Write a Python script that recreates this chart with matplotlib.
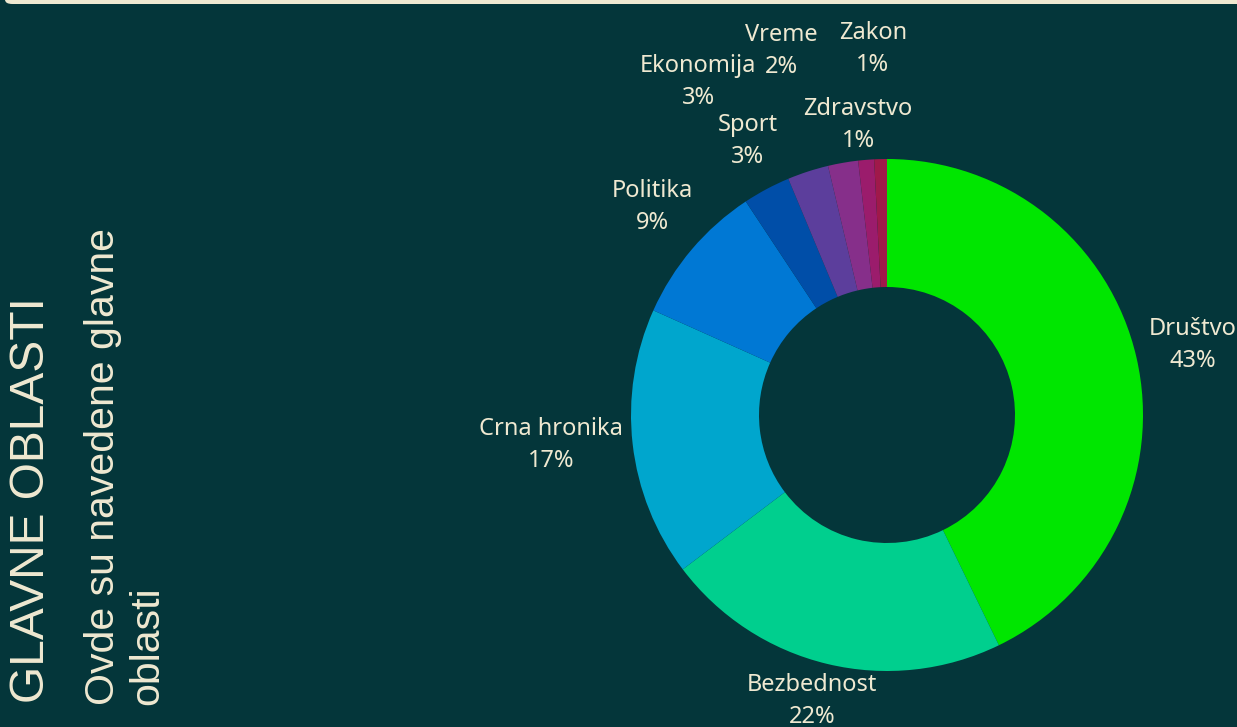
import matplotlib.pyplot as plt
from matplotlib.patches import FancyBboxPatch

# chart data
categories = ['Društvo', 'Bezbednost', 'Crna hronika', 'Politika', 'Sport',
              'Ekonomija', 'Vreme', 'Zdravstvo', 'Zakon']
shares = [42.8, 21.9, 17.0, 9.0, 3.0, 2.6, 1.9, 1.0, 0.8]
pct_labels = ['43%', '22%', '17%', '9%', '3%', '3%', '2%', '1%', '1%']
colors = ['#00e600', '#00cf8e', '#00a6cd', '#0078d4', '#004ea8',
          '#5c3e9c', '#862f8a', '#9b1c6c', '#a0194a']

title = 'GLAVNE OBLASTI'
subtitle = 'Ovde su navedene glavne\noblasti'

bg = '#04363a'
cream = '#efe9d1'

W, H = 1237, 727
fig = plt.figure(figsize=(W / 100, H / 100), dpi=100)
fig.patch.set_facecolor(bg)

# light strip of the card above
fig.patches.append(FancyBboxPatch((5 / W, (H - 4) / H), 1.2, 0.2,
                                  boxstyle='round,pad=0,rounding_size=0.006',
                                  transform=fig.transFigure, facecolor=cream,
                                  edgecolor='none'))

# donut axes: centre at (887, 415) px, radius 256 px
cx, cy, r = 887, 415, 256
ax = fig.add_axes([(cx - r) / W, (H - cy - r) / H, 2 * r / W, 2 * r / H])
ax.set_facecolor(bg)
wedges, _ = ax.pie(shares, colors=colors, startangle=90, counterclock=False,
                   radius=1, wedgeprops=dict(width=0.5, linewidth=0))
ax.set_xlim(-1, 1)
ax.set_ylim(-1, 1)
ax.set_aspect('equal')
ax.axis('off')

# label centres (in radius units) as laid out in the original
label_pos = [(1.195, 0.273), (-0.293, -1.117), (-1.3125, -0.117),
             (-0.918, 0.8125), (-0.543, 1.07), (-0.738, 1.30),
             (-0.414, 1.422), (-0.113, 1.133), (-0.055, 1.43)]

for name, pct, (x, y) in zip(categories, pct_labels, label_pos):
    ax.text(x, y, name + '\n' + pct, ha='center', va='center',
            multialignment='center', family='Noto Sans', fontsize=17,
            color=cream, linespacing=1.45)

# vertical titles on the left
fig.text(32 / W, (H - 703) / H, title, rotation=90, ha='center', va='bottom',
         family='Liberation Sans', fontsize=34.5, color=cream)
fig.text(84 / W, (H - 705) / H, subtitle, rotation=90, ha='left', va='bottom',
         family='Liberation Sans', fontsize=29.5, color=cream, linespacing=1.2,
         multialignment='left')

fig.savefig('out.png', dpi=100, facecolor=bg)
